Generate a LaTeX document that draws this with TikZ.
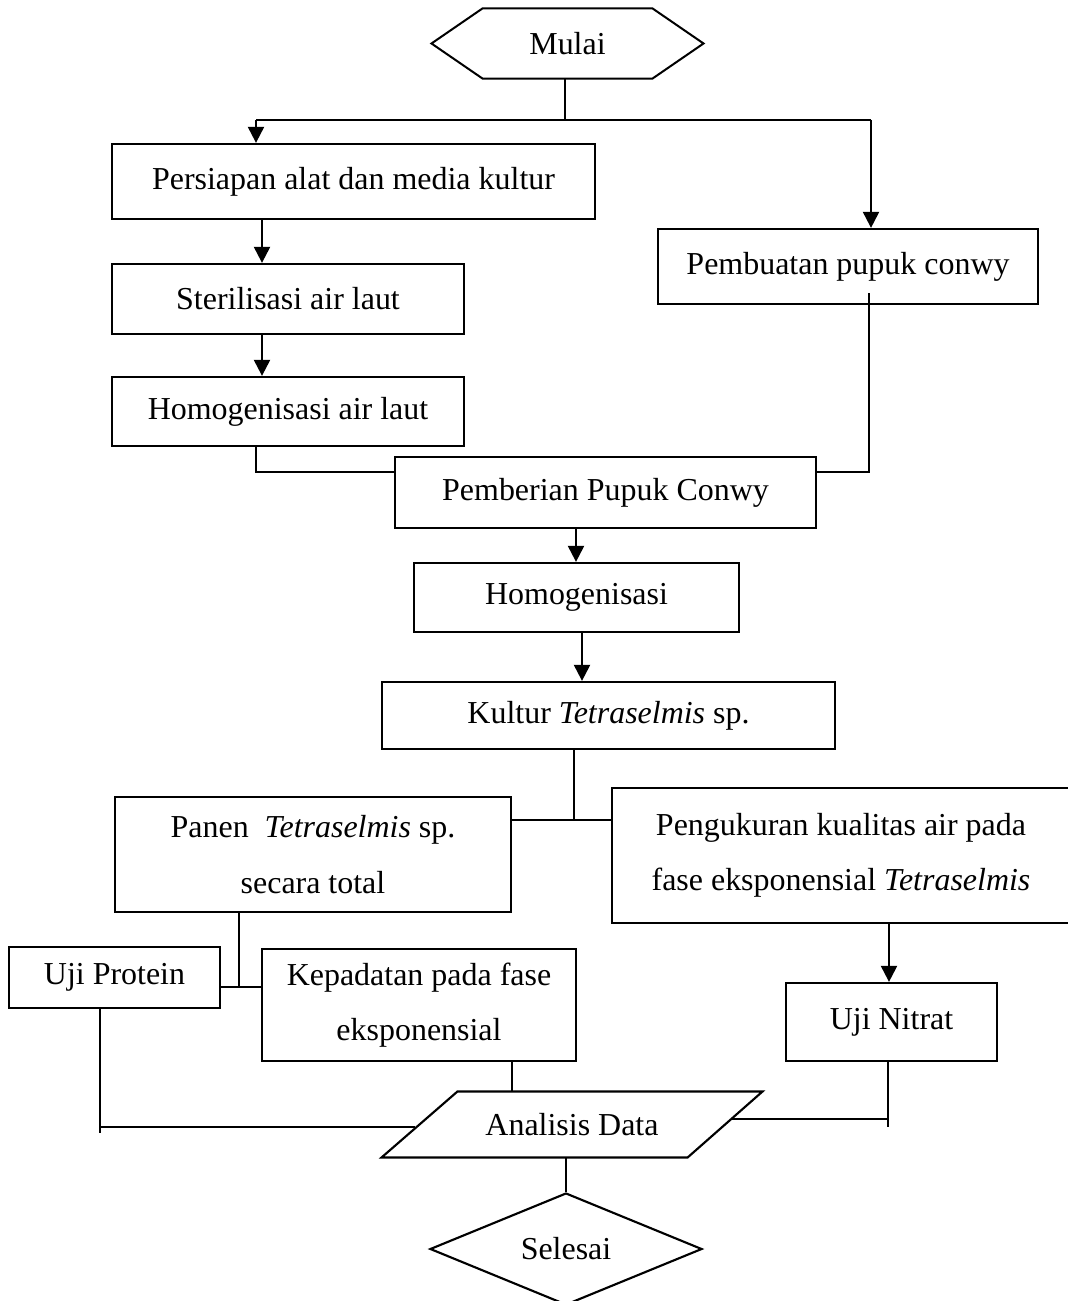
\documentclass[tikz,border=0pt]{standalone}
\usepackage{fontspec}
\setmainfont{Liberation Serif}
\usetikzlibrary{arrows.meta,shapes.geometric}
\newcommand{\px}{0.3755pt}

\begin{document}
\begin{tikzpicture}[x=\px,y=-\px,>={Triangle[length=6pt,width=6pt]},
  every node/.style={align=center,font=\fontsize{12}{20.7}\selectfont},
  box/.style={draw,line width=0.85pt,inner sep=0pt},
  conn/.style={line width=0.45pt},
  arr/.style={->,line width=0.8pt}]
\useasboundingbox (0,0) rectangle (1067,1301);

\node[minimum width=271*\px,minimum height=69*\px,inner sep=0pt] (mulai) at (567.5,43.5) {Mulai};
\draw[line width=0.75pt] (mulai.west) -- ([xshift=51*\px]mulai.north west) -- ([xshift=-51*\px]mulai.north east)
  -- (mulai.east) -- ([xshift=-51*\px]mulai.south east) -- ([xshift=51*\px]mulai.south west) -- cycle;
\node[box,minimum width=483*\px,minimum height=75*\px] (persiapan) at (353.5,181.5) {Persiapan alat dan media kultur};
\node[box,minimum width=380*\px,minimum height=75*\px] (pembuatan) at (848,266.5) {Pembuatan pupuk conwy};
\node[box,minimum width=352*\px,minimum height=70*\px] (steril) at (288,299) {Sterilisasi air laut};
\node[box,minimum width=352*\px,minimum height=69*\px] (homair) at (288,411.5) {Homogenisasi air laut};
\node[box,minimum width=421*\px,minimum height=71*\px] (pemberian) at (605.5,492.5) {Pemberian Pupuk Conwy};
\node[box,minimum width=325*\px,minimum height=69*\px] (homog) at (576.5,597.5) {Homogenisasi};
\node[box,minimum width=453*\px,minimum height=67*\px] (kultur) at (608.5,715.5) {Kultur \textit{Tetraselmis} sp.};
\node[box,minimum width=396*\px,minimum height=115*\px] (panen) at (313,854.5) {Panen~ \textit{Tetraselmis} sp.\\secara total};
\node[box,minimum width=458*\px,minimum height=135*\px] (ukur) at (841,855.5) {Pengukuran kualitas air pada\\fase eksponensial \textit{Tetraselmis}};
\node[box,minimum width=211*\px,minimum height=61*\px] (protein) at (114.5,977.5) {Uji Protein};
\node[box,minimum width=314*\px,minimum height=112*\px] (kepadatan) at (419,1005) {Kepadatan pada fase\\eksponensial};
\node[box,minimum width=211*\px,minimum height=78*\px] (nitrat) at (891.5,1022) {Uji Nitrat};
\node[minimum width=380*\px,minimum height=65*\px,inner sep=0pt] (analisis) at (572,1124.5) {Analisis Data};
\draw[line width=0.8pt] ([xshift=76*\px]analisis.north west) -- (analisis.north east)
  -- ([xshift=-75*\px]analisis.south east) -- (analisis.south west) -- cycle;
\node[draw,diamond,aspect=2.4,line width=0.8pt,inner sep=0pt,minimum width=272*\px,minimum height=112*\px] (selesai) at (566,1249) {Selesai};

% top split
\coordinate (split) at (565,120);
\coordinate (kiri) at (256,120);
\coordinate (kanan) at (871,120);
\draw[conn] (mulai.south -| split) -- (split);
\draw[line width=0.65pt] (kiri) -- (kanan);
\draw[arr] (kiri) -- (kiri |- persiapan.north);
\draw[arr] (kanan) -- (kanan |- pembuatan.north);

% left column
\coordinate (c1) at (262,0);
\draw[arr] (persiapan.south -| c1) -- (steril.north -| c1);
\draw[arr] (steril.south -| c1) -- (homair.north -| c1);

% into Pemberian
\coordinate (jl) at (256,472);
\coordinate (jr) at (869,472);
\coordinate (p2) at ([xshift=21*\px,yshift=12*\px]pembuatan.south);
\draw[conn] (homair.south -| jl) -- (jl) -- (jl -| pemberian.west);
\draw[conn] (p2) -- (jr) -- (jr -| pemberian.east);

\coordinate (c2) at (576,0);
\draw[arr] (pemberian.south -| c2) -- (homog.north -| c2);
\coordinate (c3) at (582,0);
\draw[arr] (homog.south -| c3) -- (kultur.north -| c3);

% branches
\coordinate (jk) at (574,820);
\draw[conn] (kultur.south -| jk) -- (jk);
\draw[conn] (jk -| panen.east) -- (jk -| ukur.west);
\coordinate (jp) at (239,987);
\draw[conn] (panen.south -| jp) -- (jp);
\draw[conn] (jp -| protein.east) -- (jp -| kepadatan.west);
\coordinate (c4) at (889,0);
\draw[arr] (ukur.south -| c4) -- (nitrat.north -| c4);

% to Analisis Data
\coordinate (al) at (415,1127);
\coordinate (ar) at (731,1119);
\coordinate (cl) at (100,1133);
\coordinate (cn) at (888,1127);
\coordinate (ck) at (512,0);
\draw[conn] (protein.south -| cl) -- (cl);
\draw[conn] (cl |- al) -- (al);
\draw[conn] (kepadatan.south -| ck) -- (analisis.north -| ck);
\draw[conn] (nitrat.south -| cn) -- (cn);
\draw[conn] (cn |- ar) -- (ar);
\draw[line width=0.8pt] (analisis.south -| selesai.north) -- (selesai.north);
\end{tikzpicture}
\end{document}
